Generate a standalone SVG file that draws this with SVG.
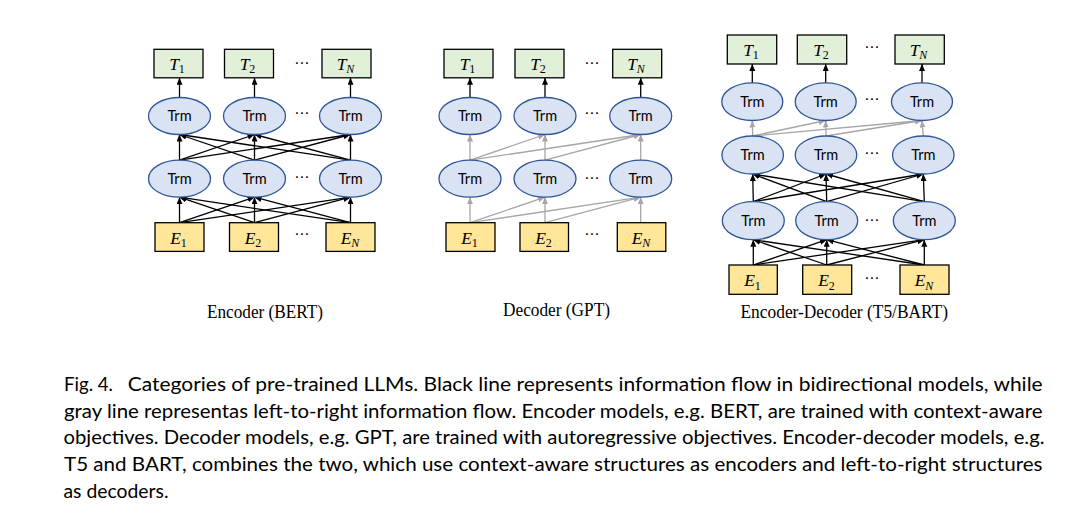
<svg xmlns="http://www.w3.org/2000/svg" width="1091" height="513" viewBox="0 0 1091 513">
<style>
.bg{fill:#fff}
.tbox{fill:#e2f0d9;stroke:#000;stroke-width:1.3}
.ebox{fill:#ffe699;stroke:#000;stroke-width:1.3}
.trm{fill:#dae3f3;stroke:#2f5597;stroke-width:1.3}
.trmt{font-family:Lato,"Open Sans",sans-serif;font-size:14.5px;text-anchor:middle;fill:#000}
.mi{font-family:"Liberation Serif",serif;font-style:italic;font-size:17.5px;text-anchor:middle;fill:#000}
.sub{font-size:12px;font-style:normal}
.subi{font-size:12px;font-style:italic}
.dots{font-family:"DejaVu Sans",sans-serif;font-size:15px;text-anchor:middle;fill:#000}
.lbl{font-family:"Liberation Serif",serif;font-size:19px;fill:#000}
.cap{font-family:Lato,"Noto Sans",sans-serif;font-size:19.5px;fill:#000}
.blk{stroke:#000;stroke-width:1.3;fill:none}
.gry{stroke:#a6a6a6;stroke-width:1.3;fill:none}
</style>
<defs>
<marker id="ab" markerUnits="userSpaceOnUse" markerWidth="8" markerHeight="7" refX="7" refY="3" orient="auto"><path d="M0,0 L7,3 L0,6 z" fill="#000"/></marker>
<marker id="ag" markerUnits="userSpaceOnUse" markerWidth="8" markerHeight="7" refX="7" refY="3" orient="auto"><path d="M0,0 L7,3 L0,6 z" fill="#a6a6a6"/></marker>
</defs>
<rect class="bg" x="0" y="0" width="1091" height="513"/>

<g id="connectors">
<!-- Encoder (BERT) -->
<g class="blk" marker-end="url(#ab)">
<line x1="179.5" y1="222.7" x2="179.5" y2="197.2"/>
<line x1="179.5" y1="222.7" x2="254.5" y2="197.2"/>
<line x1="179.5" y1="222.7" x2="350.5" y2="197.2"/>
<line x1="254.5" y1="222.7" x2="179.5" y2="197.2"/>
<line x1="254.5" y1="222.7" x2="254.5" y2="197.2"/>
<line x1="254.5" y1="222.7" x2="350.5" y2="197.2"/>
<line x1="350.5" y1="222.7" x2="179.5" y2="197.2"/>
<line x1="350.5" y1="222.7" x2="254.5" y2="197.2"/>
<line x1="350.5" y1="222.7" x2="350.5" y2="197.2"/>
<line x1="179.5" y1="160.2" x2="179.5" y2="134.5"/>
<line x1="179.5" y1="160.2" x2="254.5" y2="134.5"/>
<line x1="179.5" y1="160.2" x2="350.5" y2="134.5"/>
<line x1="254.5" y1="160.2" x2="179.5" y2="134.5"/>
<line x1="254.5" y1="160.2" x2="254.5" y2="134.5"/>
<line x1="254.5" y1="160.2" x2="350.5" y2="134.5"/>
<line x1="350.5" y1="160.2" x2="179.5" y2="134.5"/>
<line x1="350.5" y1="160.2" x2="254.5" y2="134.5"/>
<line x1="350.5" y1="160.2" x2="350.5" y2="134.5"/>
<line x1="179.5" y1="97.5" x2="179.5" y2="77.8"/>
<line x1="254.5" y1="97.5" x2="254.5" y2="77.8"/>
<line x1="350.5" y1="97.5" x2="350.5" y2="77.8"/>
</g>
<!-- Decoder (GPT) -->
<g class="gry" marker-end="url(#ag)">
<line x1="470" y1="222.7" x2="470" y2="197.2"/>
<line x1="470" y1="222.7" x2="545" y2="197.2"/>
<line x1="470" y1="222.7" x2="640.7" y2="197.2"/>
<line x1="545" y1="222.7" x2="545" y2="197.2"/>
<line x1="545" y1="222.7" x2="640.7" y2="197.2"/>
<line x1="640.7" y1="222.7" x2="640.7" y2="197.2"/>
<line x1="470" y1="160.2" x2="470" y2="134.5"/>
<line x1="470" y1="160.2" x2="545" y2="134.5"/>
<line x1="470" y1="160.2" x2="640.7" y2="134.5"/>
<line x1="545" y1="160.2" x2="545" y2="134.5"/>
<line x1="545" y1="160.2" x2="640.7" y2="134.5"/>
<line x1="640.7" y1="160.2" x2="640.7" y2="134.5"/>
</g>
<g class="blk" marker-end="url(#ab)">
<line x1="470" y1="97.5" x2="470" y2="77.8"/>
<line x1="545" y1="97.5" x2="545" y2="77.8"/>
<line x1="640.7" y1="97.5" x2="640.7" y2="77.8"/>
</g>
<!-- Encoder-Decoder (T5/BART) -->
<g class="blk" marker-end="url(#ab)">
<line x1="753.3" y1="265" x2="753.3" y2="239.7"/>
<line x1="753.3" y1="265" x2="826.7" y2="239.7"/>
<line x1="753.3" y1="265" x2="924.3" y2="239.7"/>
<line x1="826.7" y1="265" x2="753.3" y2="239.7"/>
<line x1="826.7" y1="265" x2="826.7" y2="239.7"/>
<line x1="826.7" y1="265" x2="924.3" y2="239.7"/>
<line x1="924.3" y1="265" x2="753.3" y2="239.7"/>
<line x1="924.3" y1="265" x2="826.7" y2="239.7"/>
<line x1="924.3" y1="265" x2="924.3" y2="239.7"/>
<line x1="753.3" y1="201.7" x2="752.7" y2="174"/>
<line x1="753.3" y1="201.7" x2="826" y2="174"/>
<line x1="753.3" y1="201.7" x2="923.3" y2="174"/>
<line x1="826.7" y1="201.7" x2="752.7" y2="174"/>
<line x1="826.7" y1="201.7" x2="826" y2="174"/>
<line x1="826.7" y1="201.7" x2="923.3" y2="174"/>
<line x1="924.3" y1="201.7" x2="752.7" y2="174"/>
<line x1="924.3" y1="201.7" x2="826" y2="174"/>
<line x1="924.3" y1="201.7" x2="923.3" y2="174"/>
<line x1="752.3" y1="82.9" x2="752.3" y2="64"/>
<line x1="825.7" y1="82.9" x2="825.7" y2="64"/>
<line x1="922" y1="82.9" x2="922" y2="64"/>
</g>
<g class="gry" marker-end="url(#ag)">
<line x1="752.7" y1="136" x2="752.3" y2="120.5"/>
<line x1="752.7" y1="136" x2="825.7" y2="120.5"/>
<line x1="752.7" y1="136" x2="922" y2="120.5"/>
<line x1="826" y1="136" x2="825.7" y2="120.5"/>
<line x1="826" y1="136" x2="922" y2="120.5"/>
<line x1="923.3" y1="136" x2="922" y2="120.5"/>
</g>
</g>

<!-- Encoder (BERT) nodes -->
<g id="enc-T1"><rect class="tbox" x="154" y="49.3" width="49" height="28.5"/><text class="mi" x="177" y="69.5">T<tspan class="sub" dy="3.5">1</tspan></text></g>
<g id="enc-T2"><rect class="tbox" x="224.5" y="49.3" width="49" height="28.5"/><text class="mi" x="247.5" y="69.5">T<tspan class="sub" dy="3.5">2</tspan></text></g>
<g id="enc-TN"><rect class="tbox" x="322" y="49.3" width="49" height="28.5"/><text class="mi" x="345.5" y="69.5">T<tspan class="subi" dy="3.5">N</tspan></text></g>
<g id="enc-R1"><ellipse class="trm" cx="179.5" cy="116" rx="31" ry="18.5"/><text class="trmt" x="179.5" y="121">Trm</text></g>
<g id="enc-R2"><ellipse class="trm" cx="254.5" cy="116" rx="31" ry="18.5"/><text class="trmt" x="254.5" y="121">Trm</text></g>
<g id="enc-RN"><ellipse class="trm" cx="350.5" cy="116" rx="31" ry="18.5"/><text class="trmt" x="350.5" y="121">Trm</text></g>
<g id="enc-B1"><ellipse class="trm" cx="179.5" cy="178.7" rx="31" ry="18.5"/><text class="trmt" x="179.5" y="183.7">Trm</text></g>
<g id="enc-B2"><ellipse class="trm" cx="254.5" cy="178.7" rx="31" ry="18.5"/><text class="trmt" x="254.5" y="183.7">Trm</text></g>
<g id="enc-BN"><ellipse class="trm" cx="350.5" cy="178.7" rx="31" ry="18.5"/><text class="trmt" x="350.5" y="183.7">Trm</text></g>
<g id="enc-E1"><rect class="ebox" x="155" y="222.7" width="49" height="28.7"/><text class="mi" x="178.5" y="243.5">E<tspan class="sub" dy="3.5">1</tspan></text></g>
<g id="enc-E2"><rect class="ebox" x="229.5" y="222.7" width="49" height="28.7"/><text class="mi" x="253" y="243.5">E<tspan class="sub" dy="3.5">2</tspan></text></g>
<g id="enc-EN"><rect class="ebox" x="326" y="222.7" width="49" height="28.7"/><text class="mi" x="350" y="243.5">E<tspan class="subi" dy="3.5">N</tspan></text></g>
<g id="enc-dots"><text class="dots" x="301.7" y="68">⋯</text><text class="dots" x="301.7" y="117.5">⋯</text><text class="dots" x="301.7" y="181.5">⋯</text><text class="dots" x="301.7" y="239">⋯</text></g>

<!-- Decoder (GPT) nodes -->
<g id="dec-T1"><rect class="tbox" x="444" y="49.3" width="49" height="28.5"/><text class="mi" x="467.5" y="69.5">T<tspan class="sub" dy="3.5">1</tspan></text></g>
<g id="dec-T2"><rect class="tbox" x="515" y="49.3" width="49" height="28.5"/><text class="mi" x="538" y="69.5">T<tspan class="sub" dy="3.5">2</tspan></text></g>
<g id="dec-TN"><rect class="tbox" x="612.7" y="49.3" width="49" height="28.5"/><text class="mi" x="636" y="69.5">T<tspan class="subi" dy="3.5">N</tspan></text></g>
<g id="dec-R1"><ellipse class="trm" cx="470" cy="116" rx="31" ry="18.5"/><text class="trmt" x="470" y="121">Trm</text></g>
<g id="dec-R2"><ellipse class="trm" cx="545" cy="116" rx="31" ry="18.5"/><text class="trmt" x="545" y="121">Trm</text></g>
<g id="dec-RN"><ellipse class="trm" cx="640.7" cy="116" rx="31" ry="18.5"/><text class="trmt" x="640.7" y="121">Trm</text></g>
<g id="dec-B1"><ellipse class="trm" cx="470" cy="178.7" rx="31" ry="18.5"/><text class="trmt" x="470" y="183.7">Trm</text></g>
<g id="dec-B2"><ellipse class="trm" cx="545" cy="178.7" rx="31" ry="18.5"/><text class="trmt" x="545" y="183.7">Trm</text></g>
<g id="dec-BN"><ellipse class="trm" cx="640.7" cy="178.7" rx="31" ry="18.5"/><text class="trmt" x="640.7" y="183.7">Trm</text></g>
<g id="dec-E1"><rect class="ebox" x="446" y="222.7" width="49" height="28.7"/><text class="mi" x="469.5" y="243.5">E<tspan class="sub" dy="3.5">1</tspan></text></g>
<g id="dec-E2"><rect class="ebox" x="520" y="222.7" width="48.5" height="28.7"/><text class="mi" x="543.5" y="243.5">E<tspan class="sub" dy="3.5">2</tspan></text></g>
<g id="dec-EN"><rect class="ebox" x="617.3" y="222.7" width="48.5" height="28.7"/><text class="mi" x="641" y="243.5">E<tspan class="subi" dy="3.5">N</tspan></text></g>
<g id="dec-dots"><text class="dots" x="591.7" y="67.5">⋯</text><text class="dots" x="591.7" y="117.5">⋯</text><text class="dots" x="591.7" y="182.5">⋯</text><text class="dots" x="591.7" y="239">⋯</text></g>

<!-- Encoder-Decoder (T5/BART) nodes -->
<g id="ed-T1"><rect class="tbox" x="727.3" y="35" width="49.4" height="29"/><text class="mi" x="751" y="55.5">T<tspan class="sub" dy="3.5">1</tspan></text></g>
<g id="ed-T2"><rect class="tbox" x="797.3" y="35" width="49.4" height="29"/><text class="mi" x="821" y="55.5">T<tspan class="sub" dy="3.5">2</tspan></text></g>
<g id="ed-TN"><rect class="tbox" x="895" y="35" width="49.3" height="29"/><text class="mi" x="918.5" y="55.5">T<tspan class="subi" dy="3.5">N</tspan></text></g>
<g id="ed-R1"><ellipse class="trm" cx="752.3" cy="101.7" rx="30.5" ry="18.8"/><text class="trmt" x="752.3" y="106.7">Trm</text></g>
<g id="ed-R2"><ellipse class="trm" cx="825.7" cy="101.7" rx="30.5" ry="18.8"/><text class="trmt" x="825.7" y="106.7">Trm</text></g>
<g id="ed-RN"><ellipse class="trm" cx="922" cy="101.7" rx="30.5" ry="18.8"/><text class="trmt" x="922" y="106.7">Trm</text></g>
<g id="ed-M1"><ellipse class="trm" cx="752.7" cy="155" rx="30.8" ry="19"/><text class="trmt" x="752.7" y="160">Trm</text></g>
<g id="ed-M2"><ellipse class="trm" cx="826" cy="155" rx="30.8" ry="19"/><text class="trmt" x="826" y="160">Trm</text></g>
<g id="ed-MN"><ellipse class="trm" cx="923.3" cy="155" rx="30.8" ry="19"/><text class="trmt" x="923.3" y="160">Trm</text></g>
<g id="ed-B1"><ellipse class="trm" cx="753.3" cy="220.7" rx="31" ry="19"/><text class="trmt" x="753.3" y="225.7">Trm</text></g>
<g id="ed-B2"><ellipse class="trm" cx="826.7" cy="220.7" rx="31" ry="19"/><text class="trmt" x="826.7" y="225.7">Trm</text></g>
<g id="ed-BN"><ellipse class="trm" cx="924.3" cy="220.7" rx="31" ry="19"/><text class="trmt" x="924.3" y="225.7">Trm</text></g>
<g id="ed-E1"><rect class="ebox" x="729" y="265" width="48.3" height="29.3"/><text class="mi" x="752.5" y="286">E<tspan class="sub" dy="3.5">1</tspan></text></g>
<g id="ed-E2"><rect class="ebox" x="802.7" y="265" width="49" height="29.3"/><text class="mi" x="826.5" y="286">E<tspan class="sub" dy="3.5">2</tspan></text></g>
<g id="ed-EN"><rect class="ebox" x="900" y="265" width="49" height="29.3"/><text class="mi" x="924" y="286">E<tspan class="subi" dy="3.5">N</tspan></text></g>
<g id="ed-dots"><text class="dots" x="871.7" y="51.5">⋯</text><text class="dots" x="871.7" y="104">⋯</text><text class="dots" x="871.7" y="158">⋯</text><text class="dots" x="871.7" y="224.5">⋯</text><text class="dots" x="871.7" y="282.5">⋯</text></g>

<!-- Labels -->
<text class="lbl" x="207" y="318" textLength="116" lengthAdjust="spacingAndGlyphs">Encoder (BERT)</text>
<text class="lbl" x="503" y="316" textLength="107" lengthAdjust="spacingAndGlyphs">Decoder (GPT)</text>
<text class="lbl" x="740.5" y="318" textLength="207.5" lengthAdjust="spacingAndGlyphs">Encoder-Decoder (T5/BART)</text>

<!-- Caption -->
<g id="caption">
<text class="cap" x="64" y="391" textLength="49" lengthAdjust="spacingAndGlyphs">Fig. 4.</text>
<text class="cap" x="127.7" y="391" textLength="915" lengthAdjust="spacingAndGlyphs">Categories of pre-trained LLMs. Black line represents information flow in bidirectional models, while</text>
<text class="cap" x="64" y="417.7" textLength="978.5" lengthAdjust="spacingAndGlyphs">gray line representas left-to-right information flow. Encoder models, e.g. BERT, are trained with context-aware</text>
<text class="cap" x="63.5" y="444.3" textLength="981" lengthAdjust="spacingAndGlyphs">objectives. Decoder models, e.g. GPT, are trained with autoregressive objectives. Encoder-decoder models, e.g.</text>
<text class="cap" x="64" y="471" textLength="978.5" lengthAdjust="spacingAndGlyphs">T5 and BART, combines the two, which use context-aware structures as encoders and left-to-right structures</text>
<text class="cap" x="63.5" y="497.7" textLength="105" lengthAdjust="spacingAndGlyphs">as decoders.</text>
</g>
</svg>
